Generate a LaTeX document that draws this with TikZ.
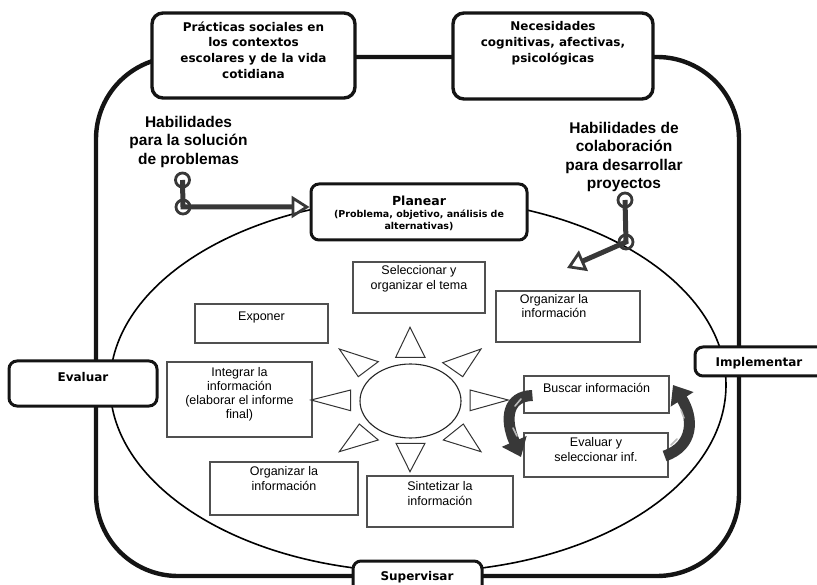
\documentclass[tikz,border=0pt]{standalone}
\usepackage{fontspec}
\setmainfont{Liberation Sans}
\newfontfamily\vfont{DejaVu Sans}
\usetikzlibrary{arrows.meta}
\definecolor{fcol}{HTML}{141414}
\definecolor{ccol}{HTML}{383838}
\definecolor{bcol}{HTML}{505050}
\begin{document}
\begin{tikzpicture}[x=1pt,y=-1pt,
  bigbox/.style={draw=fcol, line width=3.4pt, fill=white, inner sep=0pt},
  boxfont/.style={font=\vfont\bfseries\fontsize{12}{15.6}\selectfont, align=center, inner sep=0pt},
  ibox/.style={draw=bcol, line width=1.2pt, fill=white, inner sep=0pt},
  itext/.style={font=\fontsize{12.5}{14.5}\selectfont, align=center, inner sep=0pt, anchor=north, execute at begin node={\rule{0pt}{12pt}}},
  habtext/.style={font=\bfseries\fontsize{15.5}{18.5}\selectfont, align=center, inner sep=0pt, anchor=north, execute at begin node={\rule{0pt}{15pt}}},
  ring/.style={circle, draw=ccol, line width=2.8pt, minimum size=14pt, inner sep=0pt},
  link/.style={draw=ccol, line width=5pt},
  opentip/.style={-{Triangle[open, length=18pt, width=22pt, line width=2.8pt]}},
  ray/.style={draw=black!80, line width=1pt, line join=miter},
  cyc/.style={draw=ccol, line width=11pt, -{Triangle[length=17pt, width=26pt]}},
  gleam/.style={draw=gray!55, line width=1.6pt, line cap=round},
]
\clip (0,0) rectangle (817,585);
% outer frame and big ellipse
\draw[fcol, line width=4.4pt, rounded corners=82pt] (96,57) rectangle (739,576);
\draw[line width=1.6pt] (418,385) ellipse [x radius=308, y radius=187];

% top boxes
\node[bigbox, rounded corners=11pt, minimum width=203pt, minimum height=85pt] (prac) at (253.5,55.5) {};
\node[boxfont, anchor=north, execute at begin node={\rule{0pt}{12pt}}] (practxt) at ([yshift=-10.3pt]prac.north) {Prácticas sociales en\\los contextos\\escolares y de la vida\\cotidiana};
\node[bigbox, rounded corners=11pt, minimum width=200pt, minimum height=86pt] (nece) at (553,56) {};
\node[boxfont, anchor=north, execute at begin node={\rule{0pt}{12pt}}] (necetxt) at ([yshift=-10.3pt]nece.north) {Necesidades\\cognitivas, afectivas,\\psicológicas};

% Planear
\node[bigbox, line width=3pt, rounded corners=8pt, minimum width=216pt, minimum height=56pt] (plan) at (419,212) {};
\node[font=\vfont\bfseries\fontsize{9.5}{12}\selectfont, align=center, inner sep=0pt] (plantxt) at ([yshift=-1.5pt]plan.center) {{\fontsize{12.5}{12}\selectfont Planear}\\(Problema, objetivo, análisis de\\alternativas)};

% side boxes
\node[bigbox, line width=3pt, rounded corners=8pt, minimum width=148pt, minimum height=45pt] (eval) at (83,383.5) {};
\node[boxfont, anchor=base] (evaltxt) at (83,381.3) {Evaluar};
\node[bigbox, line width=3pt, rounded corners=8pt, minimum width=135pt, minimum height=29pt] (impl) at (762.5,361.5) {};
\node[boxfont, anchor=base] (impltxt) at (759,366.3) {Implementar};
\node[bigbox, line width=3pt, rounded corners=8pt, minimum width=129pt, minimum height=39pt] (supe) at (417.5,580.5) {};
\node[boxfont, anchor=base] (supetxt) at (417,580.8) {Supervisar};

% Habilidades
\node[habtext] (hab1) at (188.5,116) {Habilidades\\para la solución\\de problemas};
\node[habtext] (hab2) at (624,122) {Habilidades de\\colaboración\\para desarrollar\\proyectos};
\node[ring] (r1) at (182.5,180) {};
\node[ring] (r2) at (183,207) {};
\draw[link, opentip] (r1.center) -- (r2.center) -- (r2.center -| plan.west);
\node[ring] (r3) at (625,200) {};
\node[ring] (r4) at (626,242) {};
\coordinate (tipR) at (567,268);
\draw[link, opentip] (r3.center) -- (r4.center) -- (tipR);

% inner boxes
\node[ibox, minimum width=132pt, minimum height=51pt] (sel) at (419,287.5) {};
\node[itext] (seltxt) at ([yshift=-4.3pt]sel.north) {Seleccionar y\\organizar el tema};
\node[ibox, minimum width=144pt, minimum height=51pt] (orga) at (568,316.5) {};
\node[itext] (orgatxt) at ([xshift=-14pt,yshift=-3.8pt]orga.north) {Organizar la\\información};
\node[ibox, minimum width=133pt, minimum height=39pt] (expo) at (261.5,323.5) {};
\node[itext] (expotxt) at ([yshift=-5.3pt]expo.north) {Exponer};
\node[ibox, minimum width=145pt, minimum height=75pt] (integ) at (239.5,399.5) {};
\node[itext, font=\fontsize{12.5}{13.8}\selectfont] (integtxt) at ([yshift=-6pt]integ.north) {Integrar la\\información\\(elaborar el informe\\final)};
\node[ibox, minimum width=148pt, minimum height=53pt] (orgb) at (284,488.5) {};
\node[itext] (orgbtxt) at ([yshift=-5.3pt]orgb.north) {Organizar la\\información};
\node[ibox, minimum width=146pt, minimum height=51pt] (sint) at (440,501.5) {};
\node[itext] (sinttxt) at ([yshift=-6pt]sint.north) {Sintetizar la\\información};
\node[ibox, minimum width=145pt, minimum height=37pt] (busc) at (596.5,394.5) {};
\node[itext] (busctxt) at ([yshift=-5.3pt]busc.north) {Buscar información};
\node[ibox, minimum width=144pt, minimum height=44pt] (evsel) at (596,455) {};
\node[itext] (evseltxt) at ([yshift=-5.3pt]evsel.north) {Evaluar y\\seleccionar inf.};

% sun
\draw[line width=1.1pt, black!85] (410.5,401) ellipse [x radius=50.5, y radius=37];
\draw[ray] (410,327.3) -- (395.7,357.3) -- (425,357.3) -- cycle;
\draw[ray] (410,471.7) -- (396,443.3) -- (425,443.3) -- cycle;
\draw[ray] (508.3,400) -- (470,390) -- (470,410.7) -- cycle;
\draw[ray] (311,400) -- (350.7,390) -- (350.7,410.7) -- cycle;
\draw[ray] (339.3,349) -- (378.3,361.7) -- (358.3,376.7) -- cycle;
\draw[ray] (481,349) -- (442.7,362.7) -- (462.7,376.7) -- cycle;
\draw[ray] (339.3,451.7) -- (359.3,424) -- (378.3,440) -- cycle;
\draw[ray] (481,451.7) -- (463.3,424) -- (443.3,440) -- cycle;

% cycle arrows
\draw[cyc] ([xshift=9pt,yshift=-1pt]busc.west) .. controls (508,396) and (504,418) .. (521,457);
\draw[gleam] (521,399) -- (515,406);
\draw[gleam] (513,428) -- (517,436);
\draw[cyc] ([xshift=-4pt,yshift=-1pt]evsel.east) .. controls (694,446) and (694,418) .. (673,385);
\draw[gleam] (671,445) -- (677,439);
\draw[gleam] (684,418) -- (681,410);
\end{tikzpicture}
\end{document}
